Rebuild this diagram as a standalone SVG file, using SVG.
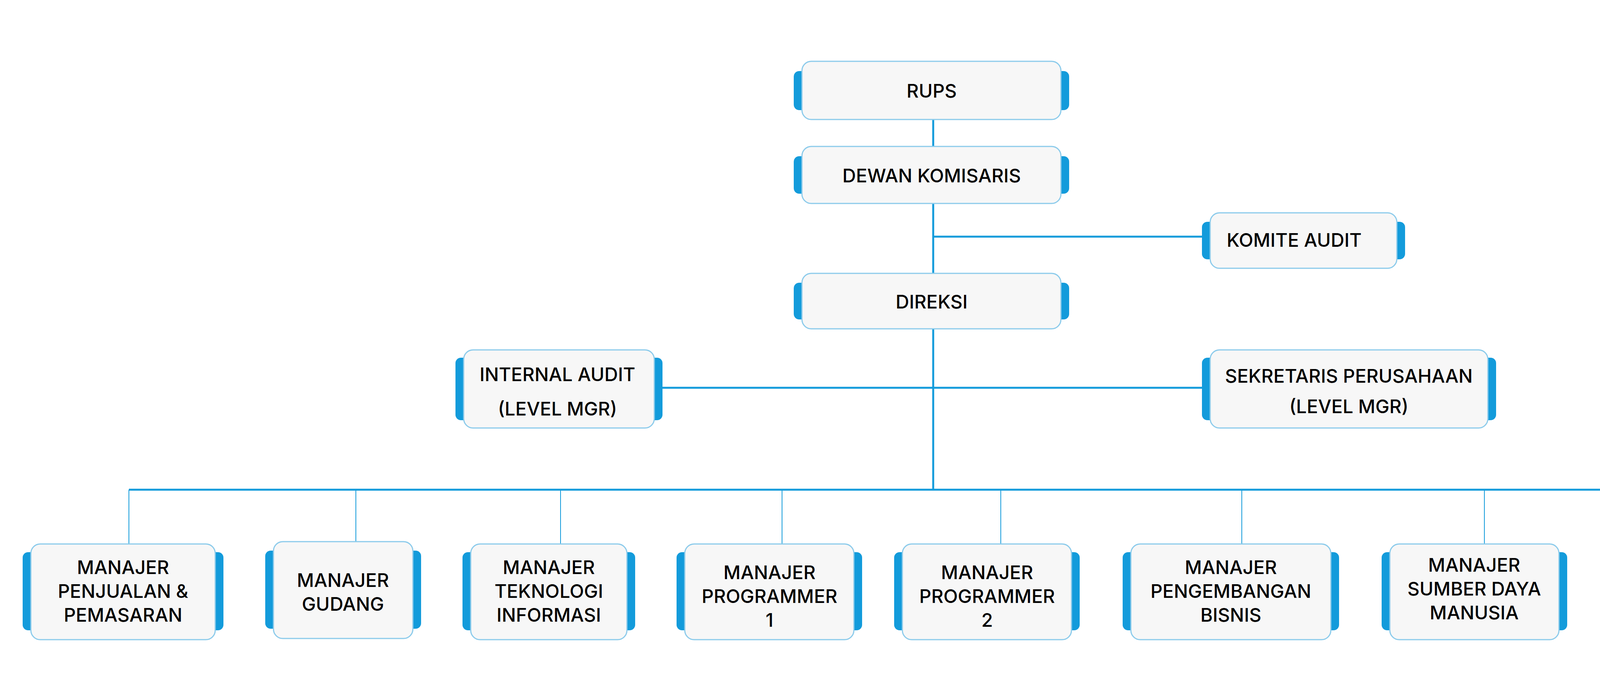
<svg xmlns="http://www.w3.org/2000/svg" width="4748" height="1749" viewBox="0 0 4748 1749">
<style>
.tab{fill:#139bdb}
.box{fill:#f7f7f7;stroke:#8ccbeb;stroke-width:3}
.t{font-family:Inter,"Open Sans",sans-serif;font-size:48px;font-weight:500;fill:#000;text-anchor:middle;dominant-baseline:central}
.main{stroke:#139bdb;stroke-width:5;fill:none}
.thin{stroke:#139bdb;stroke-width:2;fill:none}
</style>
<rect width="4748" height="1749" fill="#fff"/>
<g id="connectors">
<line class="main" x1="2389" y1="306" x2="2389" y2="375"/>
<line class="main" x1="2389" y1="521" x2="2389" y2="700"/>
<line class="main" x1="2389" y1="606" x2="3098" y2="606"/>
<line class="main" x1="2389" y1="842" x2="2389" y2="1254"/>
<line class="main" x1="1675" y1="993" x2="3098" y2="993"/>
<line class="main" x1="330" y1="1254" x2="4400" y2="1254"/>
<line class="thin" x1="330" y1="1254" x2="330" y2="1393"/>
<line class="thin" x1="911" y1="1254" x2="911" y2="1387"/>
<line class="thin" x1="1435" y1="1254" x2="1435" y2="1393"/>
<line class="thin" x1="2002" y1="1254" x2="2002" y2="1393"/>
<line class="thin" x1="2562" y1="1254" x2="2562" y2="1393"/>
<line class="thin" x1="3179" y1="1254" x2="3179" y2="1393"/>
<line class="thin" x1="3800" y1="1254" x2="3800" y2="1393"/>
<line class="thin" x1="4400" y1="1254" x2="4400" y2="1393"/>
</g>
<g id="rups"><rect class="tab" x="2032" y="182" width="705" height="100" rx="14"/><rect class="box" x="2053" y="157" width="663" height="149" rx="24"/><text class="t" x="2385" y="232">RUPS</text></g>
<g id="dewan"><rect class="tab" x="2032" y="400" width="705" height="96" rx="14"/><rect class="box" x="2053" y="375" width="663" height="146" rx="24"/><text class="t" x="2385" y="449">DEWAN KOMISARIS</text></g>
<g id="komite"><rect class="tab" x="3077" y="568" width="520" height="96" rx="14"/><rect class="box" x="3098" y="545" width="478" height="142" rx="24"/><text class="t" x="3313" y="614">KOMITE AUDIT</text></g>
<g id="direksi"><rect class="tab" x="2032" y="724" width="705" height="94" rx="14"/><rect class="box" x="2053" y="700" width="663" height="142" rx="24"/><text class="t" x="2385" y="772">DIREKSI</text></g>
<g id="internal"><rect class="tab" x="1166" y="916" width="530" height="160" rx="14"/><rect class="box" x="1187" y="896" width="488" height="200" rx="24"/><text class="t" x="1427" y="958">INTERNAL AUDIT</text><text class="t" x="1427" y="1046">(LEVEL MGR)</text></g>
<g id="sekretaris"><rect class="tab" x="3077" y="916" width="753" height="160" rx="14"/><rect class="box" x="3098" y="896" width="711" height="200" rx="24"/><text class="t" x="3453" y="962">SEKRETARIS PERUSAHAAN</text><text class="t" x="3453" y="1040">(LEVEL MGR)</text></g>
<g id="m1"><rect class="tab" x="58" y="1414" width="514" height="200" rx="14"/><rect class="box" x="79" y="1393" width="472" height="245" rx="24"/><text class="t" x="315" y="1452">MANAJER</text><text class="t" x="315" y="1513">PENJUALAN &amp;</text><text class="t" x="315" y="1574">PEMASARAN</text></g>
<g id="m2"><rect class="tab" x="679" y="1410" width="399" height="200" rx="14"/><rect class="box" x="700" y="1387" width="357" height="248" rx="24"/><text class="t" x="878" y="1485">MANAJER</text><text class="t" x="878" y="1546">GUDANG</text></g>
<g id="m3"><rect class="tab" x="1184" y="1414" width="442" height="200" rx="14"/><rect class="box" x="1205" y="1393" width="400" height="245" rx="24"/><text class="t" x="1405" y="1452">MANAJER</text><text class="t" x="1405" y="1513">TEKNOLOGI</text><text class="t" x="1405" y="1574">INFORMASI</text></g>
<g id="m4"><rect class="tab" x="1732" y="1414" width="475" height="200" rx="14"/><rect class="box" x="1753" y="1393" width="433" height="245" rx="24"/><text class="t" x="1970" y="1465">MANAJER</text><text class="t" x="1970" y="1526">PROGRAMMER</text><text class="t" x="1970" y="1587">1</text></g>
<g id="m5"><rect class="tab" x="2289" y="1414" width="475" height="200" rx="14"/><rect class="box" x="2310" y="1393" width="433" height="245" rx="24"/><text class="t" x="2527" y="1465">MANAJER</text><text class="t" x="2527" y="1526">PROGRAMMER</text><text class="t" x="2527" y="1587">2</text></g>
<g id="m6"><rect class="tab" x="2874" y="1414" width="554" height="200" rx="14"/><rect class="box" x="2895" y="1393" width="512" height="245" rx="24"/><text class="t" x="3151" y="1452">MANAJER</text><text class="t" x="3151" y="1513">PENGEMBANGAN</text><text class="t" x="3151" y="1574">BISNIS</text></g>
<g id="m7"><rect class="tab" x="3537" y="1414" width="475" height="200" rx="14"/><rect class="box" x="3558" y="1393" width="433" height="245" rx="24"/><text class="t" x="3774" y="1446">MANAJER</text><text class="t" x="3774" y="1507">SUMBER DAYA</text><text class="t" x="3774" y="1568">MANUSIA</text></g>
<g id="m8"><rect class="tab" x="4118" y="1414" width="599" height="200" rx="14"/><rect class="box" x="4139" y="1393" width="557" height="245" rx="24"/><text class="t" x="4417" y="1446">MANAJER</text><text class="t" x="4417" y="1507">ACCOUNTING, TAX</text><text class="t" x="4417" y="1568">&amp; PROCURMENT</text></g>
</svg>
